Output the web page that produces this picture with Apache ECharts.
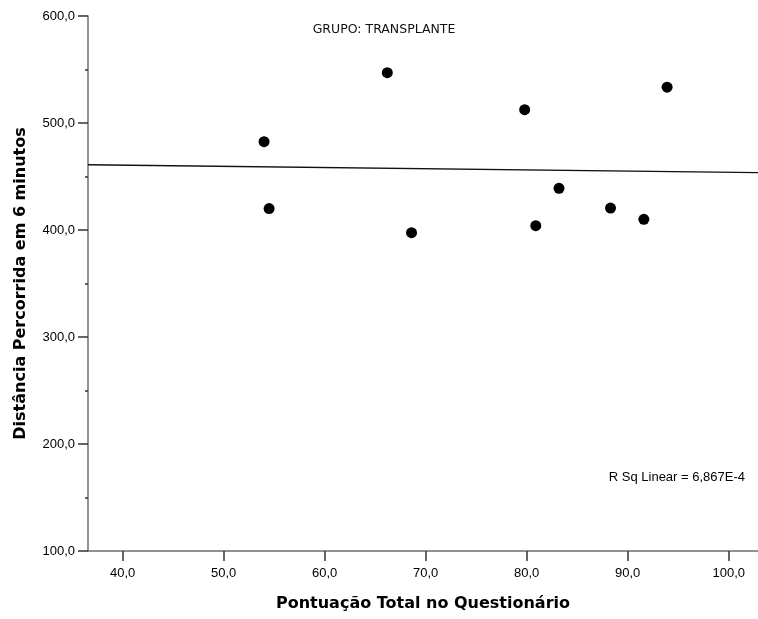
<!DOCTYPE html>
<html>
<head>
<meta charset="utf-8">
<script src="https://cdn.jsdelivr.net/npm/echarts@6/dist/echarts.min.js"></script>
<style>html,body{margin:0;padding:0;background:#fff;}#c{width:758px;height:619px;}</style>
</head>
<body>
<div id="c"></div>
<script>
// Data
const pontuacao = [54.0, 54.5, 66.2, 68.6, 79.8, 80.9, 83.2, 88.3, 91.6, 93.9];
const distancia = [482.5, 420.0, 547.0, 397.5, 512.5, 404.0, 439.0, 420.5, 410.0, 533.5];
const fitX = [36.57, 102.9];
const fitY = [461.0, 453.6];
const xTicks = [40, 50, 60, 70, 80, 90, 100];
const yTicks = [100, 200, 300, 400, 500, 600];
const groupLabel = 'GRUPO: TRANSPLANTE';
const rsqLabel = 'R Sq Linear = 6,867E-4';
const xTitle = 'Pontuação Total no Questionário';
const yTitle = 'Distância Percorrida em 6 minutos';

const FONT = '"Liberation Sans", Arial, sans-serif';
const BFONT = '"DejaVu Sans", Verdana, sans-serif';
const fmt = v => v.toFixed(1).replace('.', ',');

const chart = echarts.init(document.getElementById('c'), null, {renderer: 'canvas'});
chart.setOption({
  animation: false,
  backgroundColor: '#fff',
  grid: {left: 88, top: 16, right: 0, bottom: 68, containLabel: false},
  xAxis: {
    type: 'value', min: fitX[0], max: fitX[1],
    name: xTitle, nameLocation: 'middle', nameGap: 45,
    nameTextStyle: {fontFamily: BFONT, fontSize: 16, fontWeight: 'bold', color: '#000'},
    axisLine: {show: true, lineStyle: {color: '#6e6e6e', width: 1.5}},
    axisTick: {show: true, customValues: xTicks, length: 10, lineStyle: {color: '#333', width: 1.5}},
    axisLabel: {show: true, customValues: xTicks, formatter: fmt, margin: 16,
      fontFamily: FONT, fontSize: 13, color: '#000'},
    splitLine: {show: false}
  },
  yAxis: {
    type: 'value', min: 100, max: 600, interval: 100,
    name: yTitle, nameLocation: 'middle', nameGap: 59, nameRotate: 90,
    nameTextStyle: {fontFamily: BFONT, fontSize: 16, fontWeight: 'bold', color: '#000'},
    axisLine: {show: true, lineStyle: {color: '#6e6e6e', width: 1.5}},
    axisTick: {show: true, length: 10, lineStyle: {color: '#333', width: 1.5}},
    minorTick: {show: true, splitNumber: 2, length: 3, lineStyle: {color: '#333', width: 1.5}},
    axisLabel: {formatter: fmt, margin: 13, fontFamily: FONT, fontSize: 13, color: '#000'},
    splitLine: {show: false}
  },
  series: [
    {
      type: 'line',
      data: fitX.map((x, i) => [x, fitY[i]]),
      symbol: 'none',
      lineStyle: {color: '#111', width: 1.3},
      silent: true,
      z: 2
    },
    {
      type: 'scatter',
      data: pontuacao.map((x, i) => [x, distancia[i]]),
      symbol: 'circle',
      symbolSize: 11,
      itemStyle: {color: '#000', opacity: 1},
      z: 3
    }
  ],
  graphic: [
    {type: 'text', x: 384, y: 30, style: {text: groupLabel, font: '12.5px ' + BFONT, fill: '#111', align: 'center', verticalAlign: 'middle'}},
    {type: 'text', x: 745, y: 477, style: {text: rsqLabel, font: '13px ' + FONT, fill: '#000', align: 'right', verticalAlign: 'middle'}}
  ]
});
</script>
</body>
</html>
